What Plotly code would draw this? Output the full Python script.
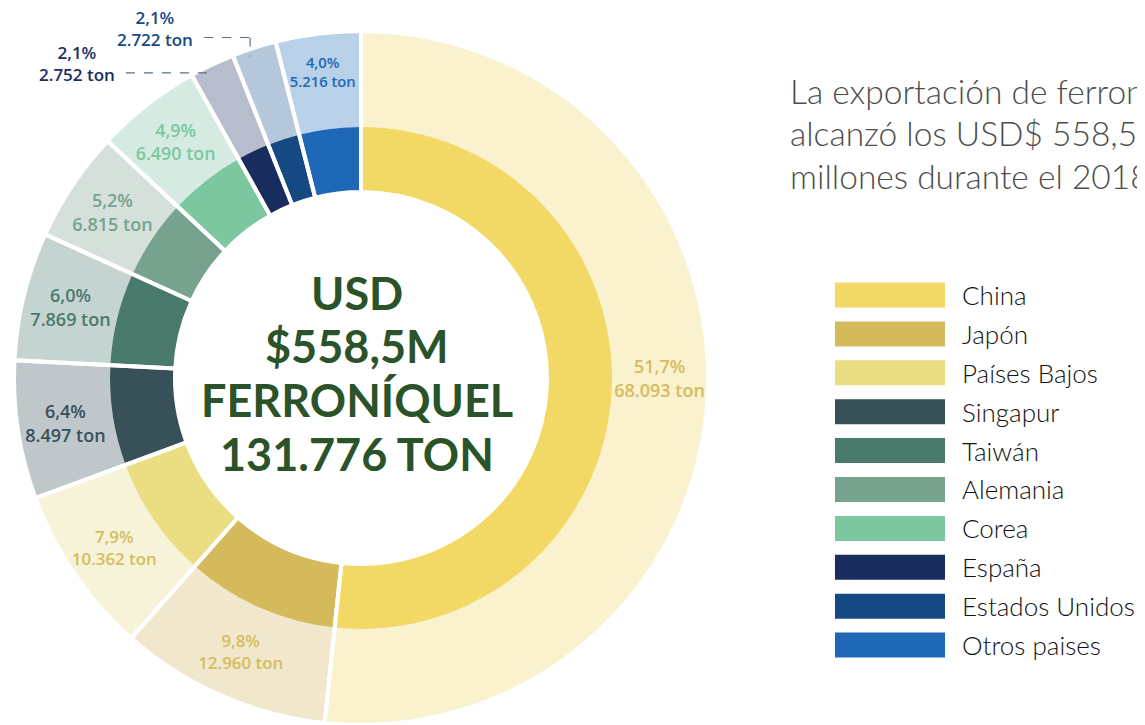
import math
import plotly.graph_objects as go

# the page body has an 8px margin, so the canvas is shifted by it
OFF = 8
W, H = 1145 - OFF, 725 - OFF

paises = ["China", "Japón", "Países Bajos", "Singapur", "Taiwán",
          "Alemania", "Corea", "España", "Estados Unidos", "Otros paises"]
toneladas = [68093, 12960, 10362, 8497, 7869, 6815, 6490, 2752, 2722, 5216]

col_fuerte = ["#F2D864", "#D5BA5C", "#EADD82", "#385159", "#4A7A6E",
              "#77A38E", "#7CC79F", "#182D5E", "#164982", "#1E68B7"]
col_claro = ["#FAF2CF", "#F0E7CC", "#F7F3D9", "#C0C7CA", "#C5D4D0",
             "#D5E0DB", "#D5EBE1", "#B8BDCD", "#B5C7DA", "#B8D1E9"]
col_texto = ["#D4BC5E", "#D4BC5E", "#D4BC5E", "#385159", "#4A7A6E",
             "#77A38E", "#7CC79F", "#182D5E", "#164982", "#1E68B7"]
# small slices get their label outside, with a dashed leader
fuera = ["España", "Estados Unidos"]

centro_txt = ["USD", "$558,5M", "FERRONÍQUEL", "131.776 TON"]
titulo = ["La exportación de ferroníquel", "alcanzó los USD$ 558,5",
          "millones durante el 2018."]

# geometry in page pixels
CX, CY = 361, 378
R_OUT, R_MID, R_HOLE = 347, 251, 186
LBL_FONT = {"family": "Open Sans", "size": 18, "weight": 600}


def px(x, y):
    return (x - OFF) / W, 1 - (y - OFF) / H


def dominio(r):
    return {"x": [(CX - r - OFF) / W, (CX + r - OFF) / W],
            "y": [max(0, 1 - (CY + r - OFF) / H), 1 - (CY - r - OFF) / H]}


total = sum(toneladas)
fig = go.Figure()

# outer pale ring with labels
fig.add_trace(go.Pie(
    labels=paises, values=toneladas, sort=False, direction="clockwise",
    domain=dominio(R_OUT), hole=R_MID / R_OUT,
    marker={"colors": col_claro, "line": {"width": 0}},
    texttemplate="%{percent:.1%}<br>%{value:,} ton",
    textposition=["none" if p in fuera else "inside" for p in paises],
    insidetextorientation="horizontal",
    insidetextfont={**LBL_FONT, "color": col_texto},
    showlegend=False, hoverinfo="label+value",
))

# inner strong ring
fig.add_trace(go.Pie(
    labels=paises, values=toneladas, sort=False, direction="clockwise",
    domain=dominio(R_MID), hole=R_HOLE / R_MID,
    marker={"colors": col_fuerte, "line": {"width": 0}},
    textinfo="none", showlegend=False, hoverinfo="label+percent",
))

# white separators across both rings
fig.add_trace(go.Pie(
    labels=paises, values=toneladas, sort=False, direction="clockwise",
    domain=dominio(R_OUT), hole=R_HOLE / R_OUT,
    marker={"colors": ["rgba(0,0,0,0)"] * len(paises),
            "line": {"color": "white", "width": 4}},
    textinfo="none", showlegend=False, hoverinfo="skip",
))

anns = []
shapes = []


def linea_px(x0, y0, x1, y1):
    a, b = px(x0, y0)
    c, d = px(x1, y1)
    return dict(type="line", xref="paper", yref="paper", x0=a, y0=b, x1=c, y1=d,
                line={"color": "#5B6E8C", "width": 1.2, "dash": "dash"})


# outside labels for the small slices
acum = 0
for i, p in enumerate(paises):
    v = toneladas[i]
    mid = (acum + v / 2) / total * 2 * math.pi
    acum += v
    if p not in fuera:
        continue
    ex = CX + 0.98 * R_OUT * math.sin(mid) - 6
    ey = CY - 0.98 * R_OUT * math.cos(mid) + 2
    txt = f"{v / total * 100:.1f}%<br>{v:,} ton".replace(",", "#").replace(".", ",").replace("#", ".")
    if p == "Estados Unidos":
        ly = ey - 19
        x0 = ex - 46
        shapes.append(linea_px(ex, ly, ex, ey))
    else:
        ly = ey
        x0 = ex - 83
    shapes.append(linea_px(x0, ly, ex, ly))
    ax, ay = px(x0 - 9, ly - 9)
    anns.append(dict(x=ax, y=ay, xref="paper", yref="paper", text=txt,
                     showarrow=False, xanchor="right", yanchor="middle", align="center",
                     font={**LBL_FONT, "size": 17, "color": col_texto[i]}))

# centre text
for k, linea in enumerate(centro_txt):
    x, y = px(357, 293 + 53.5 * k)
    anns.append(dict(x=x, y=y, xref="paper", yref="paper", text=f"<b>{linea}</b>",
                     showarrow=False, xanchor="center", yanchor="middle",
                     font={"family": "Lato", "size": 45, "color": "#2B5329"}))

# heading, cut by the right edge as in the source
for k, linea in enumerate(titulo):
    x, y = px(788, 91 + 42.5 * k)
    anns.append(dict(x=x, y=y, xref="paper", yref="paper", text=linea,
                     showarrow=False, xanchor="left", yanchor="middle",
                     font={"family": "Lato", "size": 33.5, "color": "#4D4D4D", "weight": 300}))

# legend with wide swatches
for k, p in enumerate(paises):
    yc = 295 + 38.9 * k
    a, b = px(835, yc - 12.5)
    c, d = px(945, yc + 12.5)
    shapes.append(dict(type="rect", xref="paper", yref="paper",
                       x0=a, x1=c, y0=b, y1=d,
                       fillcolor=col_fuerte[k], line={"width": 0}))
    x, y = px(960, yc)
    anns.append(dict(x=x, y=y, xref="paper", yref="paper", text=p,
                     showarrow=False, xanchor="left", yanchor="middle",
                     font={"family": "Lato", "size": 26, "color": "#111111", "weight": 300}))

fig.update_layout(
    width=W, height=H,
    margin={"l": 0, "r": 0, "t": 0, "b": 0},
    paper_bgcolor="white", plot_bgcolor="white",
    separators=",.",
    annotations=anns, shapes=shapes,
    showlegend=False,
)

fig.write_html("out.html")
